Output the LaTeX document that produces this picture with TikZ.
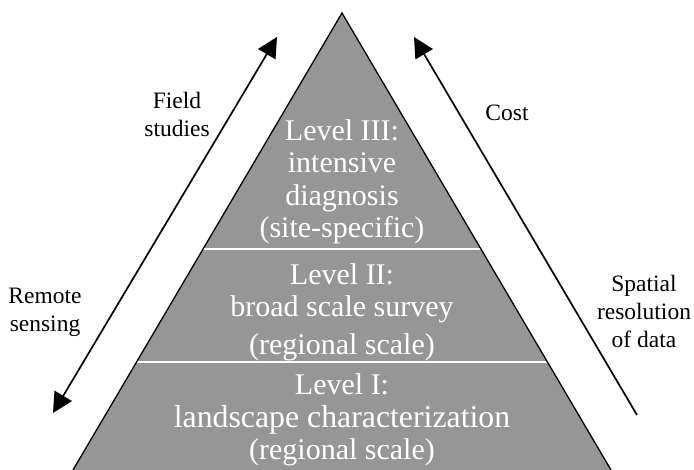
\documentclass[tikz,border=0pt]{standalone}
\usepackage{fontspec}
\setmainfont{Liberation Serif}
\usepackage{xcolor}
\usetikzlibrary{arrows.meta}
\definecolor{pyramidgray}{RGB}{150,150,150}

\begin{document}
\begin{tikzpicture}[x=1pt,y=-1pt,
  >={Triangle[length=20pt,width=20pt]},
  lvltext/.style={text=white,align=center,font=\fontsize{30}{32.5}\selectfont},
  sidelabel/.style={align=center,font=\fontsize{23.5}{28}\selectfont},
  bigarrow/.style={line width=1.7pt}]
\useasboundingbox (0,0) rectangle (694,470);

\coordinate (apex) at (342,13);
\coordinate (baseL) at (73,470);
\coordinate (baseR) at (611,470);
\fill[pyramidgray] (baseL) -- (apex) -- (baseR) -- cycle;

% dividers between the levels
\foreach \y/\xl/\xr in {249/203/481, 362/137/547}
  \draw[white,line width=1.3pt] (\xl,\y) -- (\xr,\y);

\draw[line width=1.3pt] (baseL) -- (apex) -- (baseR);

\node[lvltext] (lvl3) at (342,182) {Level III:\\intensive\\diagnosis\\(site-specific)};
\node[lvltext] (lvl2) at (342,312) {Level II:\\broad scale survey\\[5pt](regional scale)};
\node[lvltext] (lvl1) at (342,420) {Level I:\\{\fontsize{31.8}{32.5}\selectfont landscape characterization}\\(regional scale)};

\node[sidelabel] (field) at (177,114) {Field\\studies};
\node[sidelabel] (cost) at (507,113) {Cost};
\node[sidelabel] (remote) at (45,312) {Remote\\sensing};
\node[sidelabel] (spatial) at (644,311) {Spatial\\resolution\\of data};

\coordinate (fieldtip) at (277,37);
\coordinate (remotetip) at (53,413);
\coordinate (costtip) at (414,37);
\coordinate (costfoot) at (637,415);
\draw[bigarrow,<->] (remotetip) -- (fieldtip);
\draw[bigarrow,->] (costfoot) -- (costtip);
\end{tikzpicture}
\end{document}
